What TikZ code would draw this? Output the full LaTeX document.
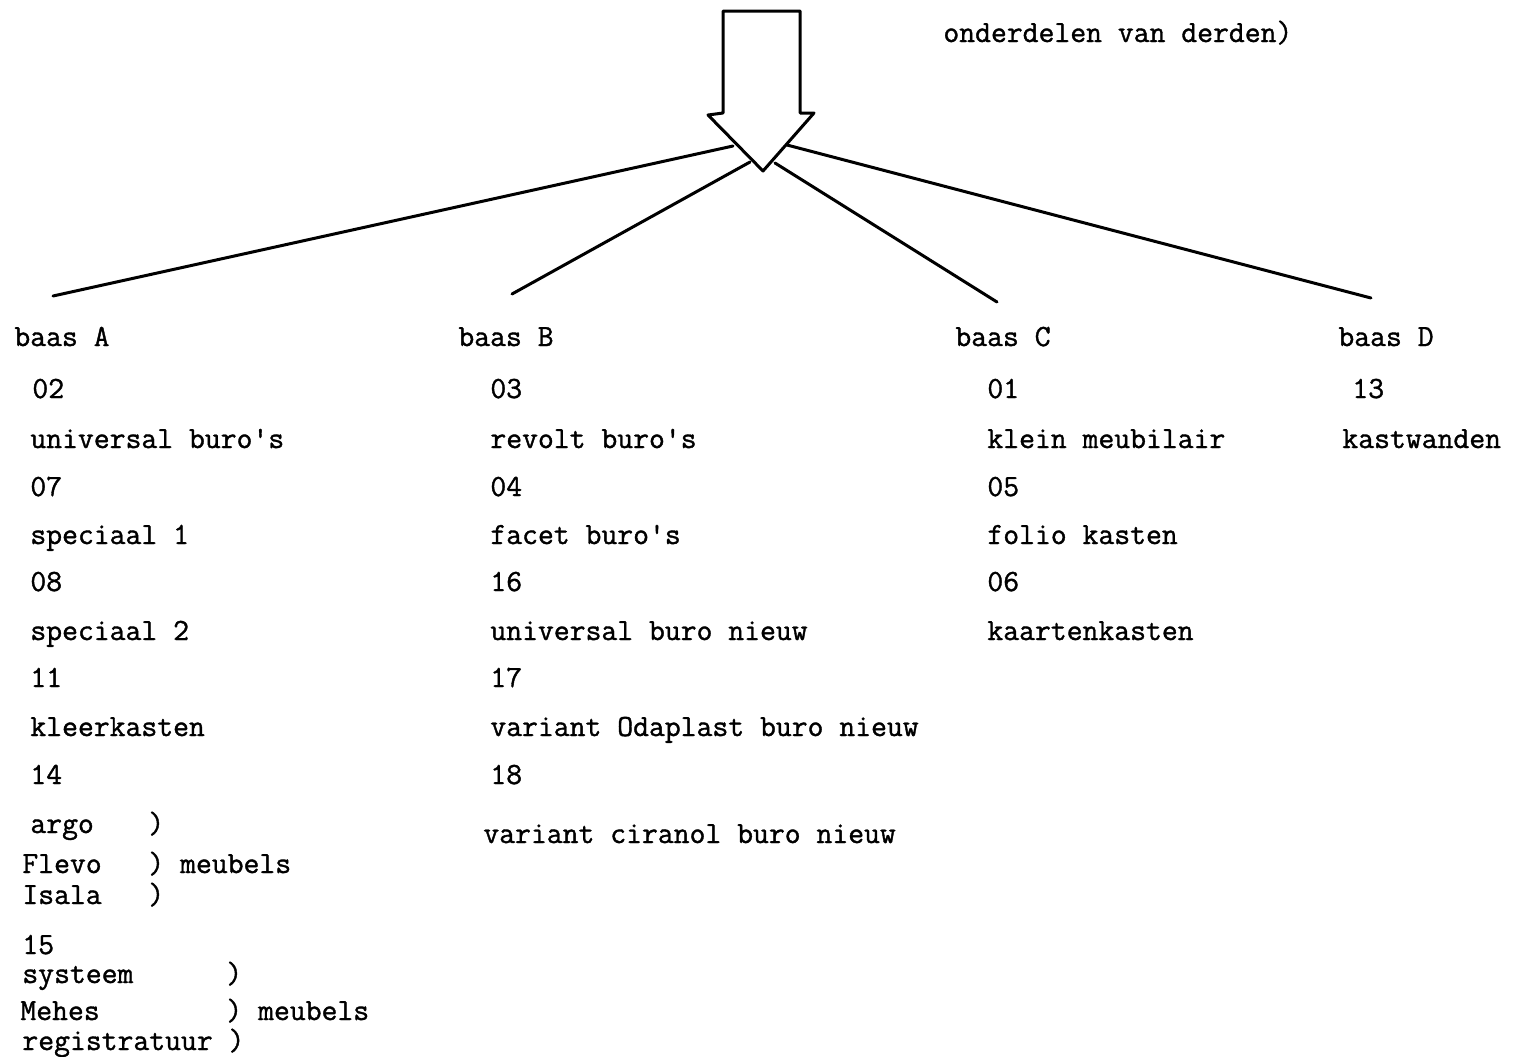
\documentclass[tikz,border=0pt]{standalone}
\usepackage{fontspec}
\newfontfamily\typewriter{Latin Modern Mono}[FakeBold=1.2]
\begin{document}
\begin{tikzpicture}[x=0.5pt,y=-0.5pt,
  tw/.style={anchor=base west,inner sep=0pt,font=\typewriter\fontsize{15.4pt}{17pt}\selectfont},
  stroke/.style={line width=1.5pt,line cap=round,line join=round}]
\useasboundingbox (0,0) rectangle (1520,1056);

% the big downward arrow
\draw[stroke] (723,113) -- (723,11) -- (800,11) -- (800,113) -- (814,113)
  -- (763,171) coordinate (tip) -- (708,115) -- cycle;
\coordinate (sa) at (733,146);
\coordinate (sb) at (750,162);
\coordinate (sc) at (775,163);
\coordinate (sd) at (787,145);

\node[tw] (note) at (943,42) {onderdelen van derden)};

% branch ends
\coordinate (ea) at (53,296);
\coordinate (eb) at (512,294);
\coordinate (ec) at (997,302);
\coordinate (ed) at (1371,298);
\draw[stroke] (sa) -- (ea);
\draw[stroke] (sb) -- (eb);
\draw[stroke] (sc) -- (ec);
\draw[stroke] (sd) -- (ed);

% heads
\node[tw] (ha) at (14,346) {baas A};
\node[tw] (hb) at (458,346) {baas B};
\node[tw] (hc) at (955,346) {baas C};
\node[tw] (hd) at (1338,346) {baas D};

% column A
\node[tw] (a1) at (32,398) {02};
\node[tw] (a2) at (30,448) {universal buro's};
\node[tw] (a3) at (30,496) {07};
\node[tw] (a4) at (30,544) {speciaal 1};
\node[tw] (a5) at (30,591) {08};
\node[tw] (a6) at (30,640) {speciaal 2};
\node[tw] (a7) at (30,687) {11};
\node[tw] (a8) at (30,736) {kleerkasten};
\node[tw] (a9) at (30,784) {14};
\node[tw] (a10) at (30,833) {argo};
\node[tw] (a10p) at (148,833) {)};
\node[tw] (a11) at (22,873) {Flevo};
\node[tw] (a11p) at (148,873) {) meubels};
\node[tw] (a12) at (22,904) {Isala};
\node[tw] (a12p) at (148,904) {)};
\node[tw] (a13) at (22,954) {15};
\node[tw] (a14) at (22,983) {systeem};
\node[tw] (a14p) at (226,983) {)};
\node[tw] (a15) at (20,1020) {Mehes};
\node[tw] (a15p) at (226,1020) {) meubels};
\node[tw] (a16) at (22,1050) {registratuur )};

% column B
\node[tw] (b1) at (490,398) {03};
\node[tw] (b2) at (490,448) {revolt buro's};
\node[tw] (b3) at (490,496) {04};
\node[tw] (b4) at (490,544) {facet buro's};
\node[tw] (b5) at (490,591) {16};
\node[tw] (b6) at (490,640) {universal buro nieuw};
\node[tw] (b7) at (490,687) {17};
\node[tw] (b8) at (490,736) {variant Odaplast buro nieuw};
\node[tw] (b9) at (490,784) {18};
\node[tw] (b10) at (483,843) {variant ciranol buro nieuw};

% column C
\node[tw] (c1) at (987,398) {01};
\node[tw] (c2) at (987,448) {klein meubilair};
\node[tw] (c3) at (987,496) {05};
\node[tw] (c4) at (987,544) {folio kasten};
\node[tw] (c5) at (987,591) {06};
\node[tw] (c6) at (987,640) {kaartenkasten};

% column D
\node[tw] (d1) at (1352,398) {13};
\node[tw] (d2) at (1342,448) {kastwanden};
\end{tikzpicture}
\end{document}
